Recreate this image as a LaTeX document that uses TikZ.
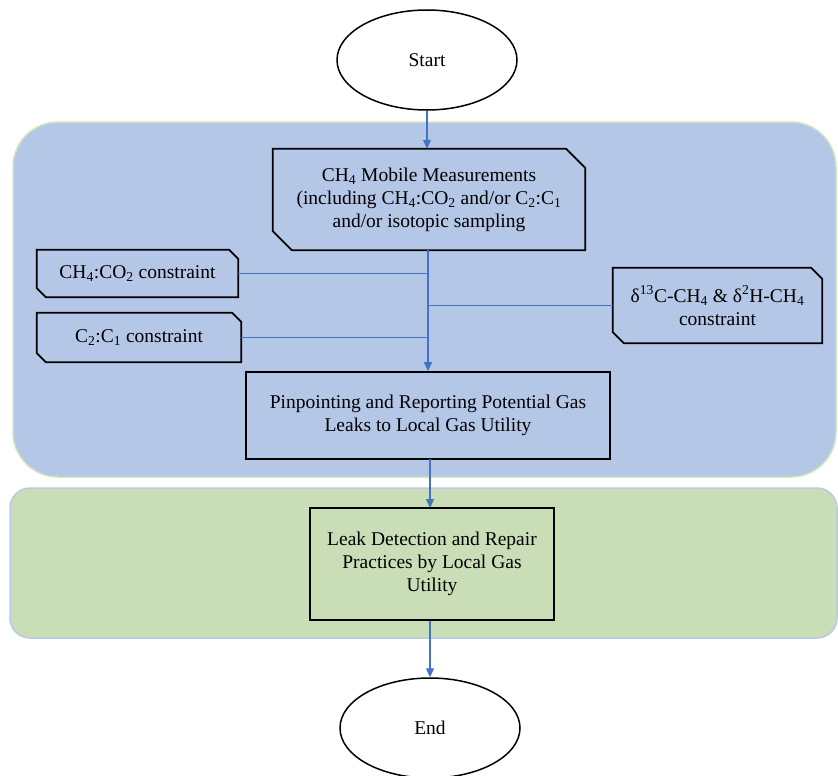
\documentclass[tikz,border=0pt]{standalone}
\usepackage{fontspec}
\setmainfont{Liberation Serif}
\usetikzlibrary{arrows.meta,shapes.geometric}
\definecolor{regblue}{HTML}{B4C7E7}
\definecolor{reggreen}{HTML}{C9DEB6}
\definecolor{regblueedge}{HTML}{D2E3C0}
\definecolor{reggreenedge}{HTML}{B8CAE6}
\definecolor{linkblue}{HTML}{4472C4}
\newcommand{\snipoutline}[2]{%
  \draw[boxline] (#1.north west) -- ([xshift=-#2]#1.north east) -- ([yshift=-#2]#1.north east)
    -- (#1.south east) -- ([xshift=#2]#1.south west) -- ([yshift=#2]#1.south west) -- cycle;}
\begin{document}
\begin{tikzpicture}[x=1pt,y=-1pt,
  txt/.style={font=\fontsize{19.5}{23}\selectfont, align=center, inner sep=0pt},
  boxline/.style={draw=black, line width=1.7pt, line join=miter},
  plainbox/.style={txt, draw=black, line width=1.7pt},
  term/.style={txt, ellipse, draw=black, line width=1.5pt, minimum width=180pt, minimum height=100pt},
  link/.style={draw=linkblue, line width=1.1pt},
  arr/.style={link, -{Triangle[length=9pt,width=8pt]}}]
\useasboundingbox (0,0) rectangle (838,776);
% regions
\path[fill=regblue, draw=regblueedge, line width=1.5pt, rounded corners=45pt] (13,122) rectangle (836,477);
\path[fill=reggreen, draw=reggreenedge, line width=1.5pt, rounded corners=20pt] (10,488) rectangle (837,638);
% nodes
\node[term] (start) at (427,60) {Start};
\node[txt, minimum width=312pt, minimum height=101pt] (meas) at (429,199.5)
  {CH\textsubscript{4} Mobile Measurements\\(including CH\textsubscript{4}:CO\textsubscript{2} and/or C\textsubscript{2}:C\textsubscript{1}\\and/or isotopic sampling};
\snipoutline{meas}{19pt}
\node[txt, minimum width=201pt, minimum height=47pt] (cco) at (137.5,273.5)
  {CH\textsubscript{4}:CO\textsubscript{2} constraint};
\snipoutline{cco}{9pt}
\node[txt, minimum width=204pt, minimum height=49pt] (cc) at (139,337.5)
  {C\textsubscript{2}:C\textsubscript{1} constraint};
\snipoutline{cc}{9pt}
\node[txt, minimum width=209pt, minimum height=75pt] (iso) at (717.5,305.5)
  {δ\textsuperscript{13}C-CH\textsubscript{4} \& δ\textsuperscript{2}H-CH\textsubscript{4}\\constraint};
\snipoutline{iso}{11pt}
\node[plainbox, minimum width=364pt, minimum height=87pt] (pin) at (428,415.5)
  {Pinpointing and Reporting Potential Gas\\Leaks to Local Gas Utility};
\node[plainbox, minimum width=244pt, minimum height=112pt] (leak) at (432,564)
  {Leak Detection and Repair\\Practices by Local Gas\\Utility};
\node[term] (end) at (430,728) {End};
% connectors
\coordinate (trunktop) at (428,250);
\draw[arr] (start.south) -- (start.south |- meas.north);
\draw[arr] (trunktop) -- (trunktop |- pin.north);
\draw[link] (cco.east) -- (cco.east -| trunktop);
\draw[link] (cc.east) -- (cc.east -| trunktop);
\draw[link] (iso.west) -- (iso.west -| trunktop);
\draw[arr] (430,459) -- (430,508);
\draw[arr] (leak.south -| end.north) -- (end.north);
\end{tikzpicture}
\end{document}
